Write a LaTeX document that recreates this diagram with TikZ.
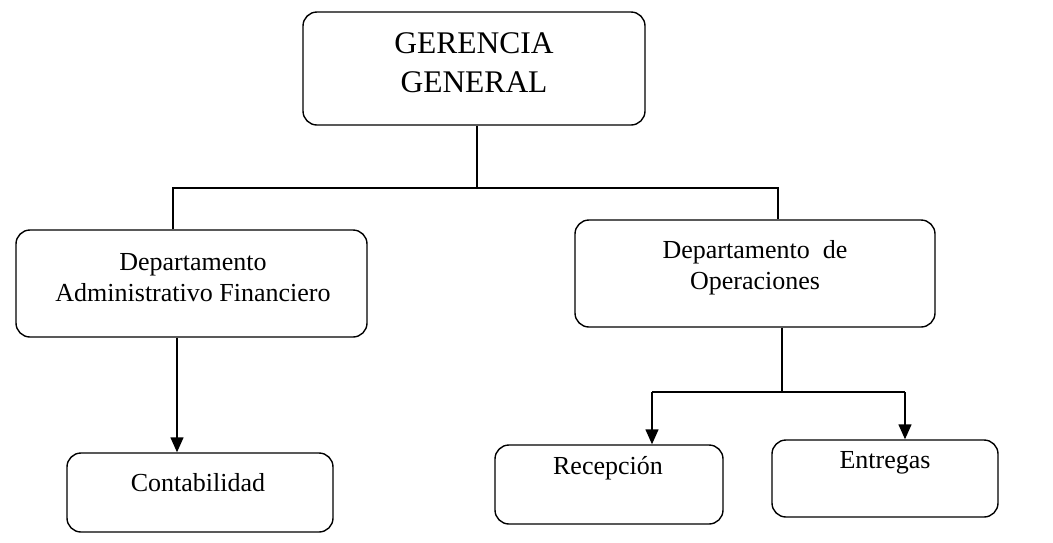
\documentclass[tikz,border=0pt]{standalone}
\usepackage{fontspec}
\setmainfont{Liberation Serif}
\usetikzlibrary{arrows.meta}
\begin{document}
\begin{tikzpicture}[x=1pt,y=-1pt,
  box/.style={draw, line width=1.4pt, rounded corners=14pt, inner sep=0pt},
  txt/.style={align=center, inner sep=0pt, font=\fontsize{26}{31}\selectfont},
  toptxt/.style={align=center, inner sep=0pt, font=\fontsize{31.5}{39}\selectfont},
  conn/.style={line width=1.4pt},
  arr/.style={line width=1.4pt, -{Triangle[width=13pt,length=15pt]}}]
\useasboundingbox (0,0) rectangle (1053,542);
% boxes
\node[box, minimum width=342pt, minimum height=113pt] (top) at (474,68.5) {};
\node[toptxt] (topt) at (474,62.5) {GERENCIA\\GENERAL};
\node[box, minimum width=351pt, minimum height=107pt] (adm) at (191.5,283.5) {};
\node[txt] (admt) at (193,277.5) {Departamento\\Administrativo Financiero};
\node[box, minimum width=360pt, minimum height=107pt] (ope) at (755,273.5) {};
\node[txt] (opet) at (755,268) {Departamento\ \ de\\Operaciones};
\node[box, minimum width=266pt, minimum height=79pt] (con) at (200,492.5) {};
\node[txt] (cont) at (198,483) {Contabilidad};
\node[box, minimum width=228pt, minimum height=79pt] (rec) at (609,484.5) {};
\node[txt] (rect) at (608,468) {Recepción};
\node[box, minimum width=226pt, minimum height=77pt] (ent) at (885,478.5) {};
\node[txt] (entt) at (885,463) {Entregas};
% junctions
\coordinate (j0) at (477,188);
\coordinate (jl) at (173,188);
\coordinate (jr) at (778,188);
\coordinate (k0) at (782,392);
\coordinate (kl) at (652,392);
\coordinate (kr) at (905,392);
\coordinate (c0) at (177,0);
% connectors
\draw[conn] (top.south -| j0) -- (j0);
\draw[conn] (adm.north -| jl) -- (jl) -- (jr) -- (ope.north -| jr);
\draw[arr] (adm.south -| c0) -- (con.north -| c0);
\draw[conn] (ope.south -| k0) -- (k0);
\draw[conn] (k0) -- (kl);
\draw[conn] (k0) -- (kr);
\draw[arr] (kl) -- (rec.north -| kl);
\draw[arr] (kr) -- (ent.north -| kr);
\end{tikzpicture}
\end{document}
